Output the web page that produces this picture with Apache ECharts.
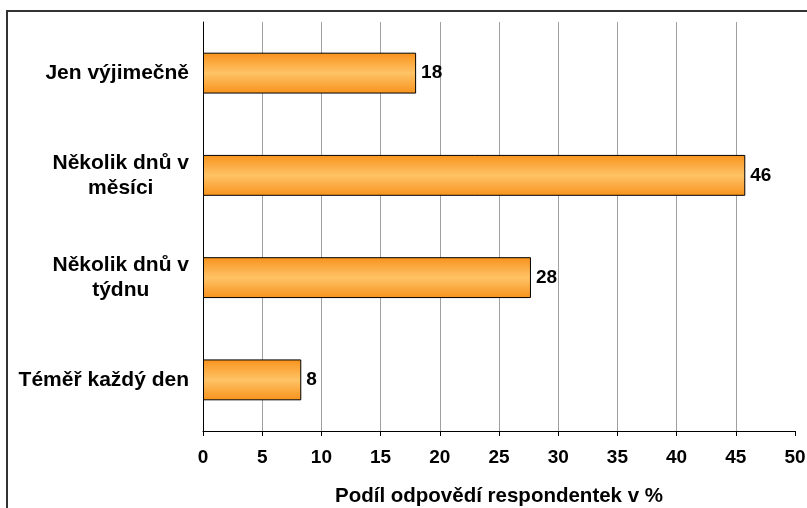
<!DOCTYPE html>
<html>
<head>
<meta charset="utf-8">
<script src="https://cdn.jsdelivr.net/npm/echarts@6/dist/echarts.min.js"></script>
<style>
html,body{margin:0;padding:0;background:#fff;}
#c{width:807px;height:508px;}
</style>
</head>
<body>
<div id="c"></div>
<script>
const categories = ['Téměř každý den', 'Několik dnů v týdnu', 'Několik dnů v měsíci', 'Jen výjimečně'];
const categoryLabels = ['Téměř každý den', 'Několik dnů v\ntýdnu', 'Několik dnů v\nměsíci', 'Jen výjimečně'];
const values = [8.3, 27.7, 45.8, 18.0];
const axisTitle = 'Podíl odpovědí respondentek v %';

const FONT = '"Liberation Sans", Arial, sans-serif';
const chart = echarts.init(document.getElementById('c'), null, {renderer: 'canvas'});
chart.setOption({
  animation: false,
  backgroundColor: '#fff',
  graphic: [{
    type: 'rect', silent: true, z: 100,
    shape: {x: 7, y: 11, width: 1000, height: 700},
    style: {fill: 'none', stroke: '#333', lineWidth: 2}
  }],
  grid: {left: 203, right: 12, top: 22, bottom: 77, containLabel: false, outerBoundsMode: 'none'},
  xAxis: {
    type: 'value', min: 0, max: 50, interval: 5,
    axisLine: {show: true, lineStyle: {color: '#000', width: 1}},
    axisTick: {show: true, length: 5, lineStyle: {color: '#000'}},
    axisLabel: {fontFamily: FONT, fontWeight: 'bold', fontSize: 19, color: '#000', margin: 17},
    splitLine: {show: true, showMinLine: false, showMaxLine: false, lineStyle: {color: '#a0a0a0', width: 1}},
    name: axisTitle, nameLocation: 'middle', nameGap: 55,
    nameTextStyle: {fontFamily: FONT, fontWeight: 'bold', fontSize: 20.5, color: '#000'}
  },
  yAxis: {
    type: 'category', data: categories,
    axisLine: {show: true, lineStyle: {color: '#000', width: 1}},
    axisTick: {show: false},
    axisLabel: {
      fontFamily: FONT, fontWeight: 'bold', fontSize: 21, color: '#000', margin: 14,
      formatter: function (v, i) {
        return categoryLabels[i].split('\n').map(s => '{c|' + s + '}').join('\n');
      },
      rich: {c: {align: 'center', fontFamily: FONT, fontWeight: 'bold', fontSize: 21, color: '#000', lineHeight: 25}}
    },
    splitLine: {show: false}
  },
  series: [{
    type: 'bar', data: values, barCategoryGap: '60%',
    itemStyle: {
      borderColor: '#000', borderWidth: 1,
      color: new echarts.graphic.LinearGradient(0, 0, 0, 1, [
        {offset: 0, color: '#F7921C'},
        {offset: 0.5, color: '#FFC366'},
        {offset: 1, color: '#F7921C'}
      ])
    },
    label: {
      show: true, position: 'right', distance: 5,
      fontFamily: FONT, fontWeight: 'bold', fontSize: 19, color: '#000',
      formatter: p => Math.round(p.value)
    }
  }]
});
</script>
</body>
</html>
